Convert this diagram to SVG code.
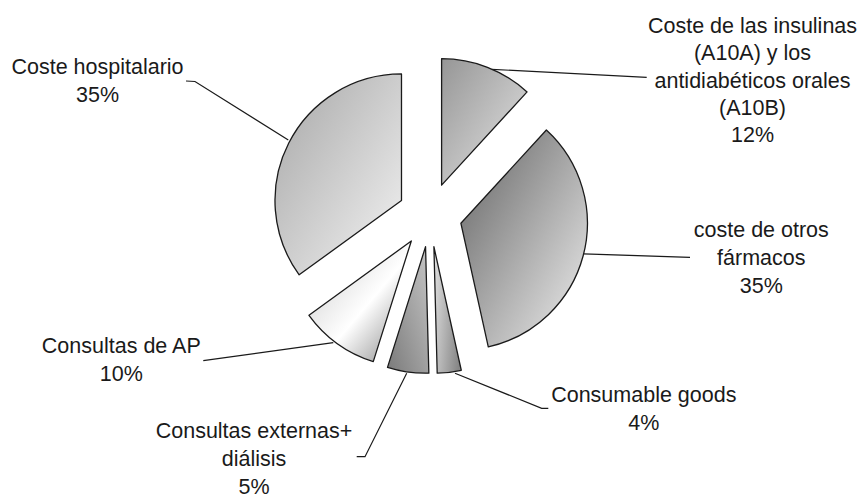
<svg xmlns="http://www.w3.org/2000/svg" width="862" height="497" viewBox="0 0 862 497">
<style>
.slice{stroke:#1a1a1a;stroke-width:1.3;stroke-linejoin:round}
.lead{fill:none;stroke:#1a1a1a;stroke-width:1.2}
text{font-family:"Liberation Sans",Arial,sans-serif;font-size:21.5px;fill:#1a1a1a;text-anchor:middle}
</style>
<defs>
<linearGradient id="g1" x1="0" y1="0" x2="1" y2="1"><stop offset="0" stop-color="#969696"/><stop offset="1" stop-color="#e6e6e6"/></linearGradient>
<linearGradient id="g2" x1="0" y1="0" x2="1" y2="1"><stop offset="0" stop-color="#626262"/><stop offset="1" stop-color="#f0f0f0"/></linearGradient>
<linearGradient id="g3" x1="0" y1="0.3" x2="1" y2="0.7"><stop offset="0" stop-color="#dadada"/><stop offset="1" stop-color="#868686"/></linearGradient>
<linearGradient id="g4" x1="0" y1="1" x2="1" y2="0"><stop offset="0" stop-color="#7a7a7a"/><stop offset="1" stop-color="#c6c6c6"/></linearGradient>
<linearGradient id="g5" x1="0" y1="0" x2="1" y2="1"><stop offset="0" stop-color="#c8c8c8"/><stop offset="0.55" stop-color="#ffffff"/><stop offset="1" stop-color="#808080"/></linearGradient>
<linearGradient id="g6" x1="0" y1="0" x2="1" y2="1"><stop offset="0" stop-color="#a6a6a6"/><stop offset="1" stop-color="#f4f4f4"/></linearGradient>
</defs>
<g id="connectors">
<polyline class="lead" points="491.7,69.3 646.7,77.3"/>
<polyline class="lead" points="583.3,253.8 690,257.3"/>
<polyline class="lead" points="455,373.3 541.7,408.3 548.3,408.3"/>
<polyline class="lead" points="406.7,373.3 365,456.7 356.7,456.7"/>
<polyline class="lead" points="333.3,342.7 203.3,360.7"/>
<polyline class="lead" points="288.3,140 195,81.5 186,81"/>
</g>
<g id="insulinas">
<path class="slice" fill="url(#g1)" d="M441.6,185.18 L441.6,58.68 A126.5,126.5 0 0 1 527.06,91.91 Z"/>
<text x="752.5" y="33">Coste de las insulinas</text>
<text x="752.5" y="60.3">(A10A) y los</text>
<text x="752.5" y="87.6">antidiabéticos orales</text>
<text x="752.5" y="114.9">(A10B)</text>
<text x="752.5" y="142.2">12%</text>
</g>
<g id="otros-farmacos">
<path class="slice" fill="url(#g2)" d="M460.91,223.28 L546.37,130.01 A126.5,126.5 0 0 1 488.29,346.78 Z"/>
<text x="761.3" y="236.7">coste de otros</text>
<text x="761.3" y="265">fármacos</text>
<text x="761.3" y="293.3">35%</text>
</g>
<g id="consumable">
<path class="slice" fill="url(#g3)" d="M433.9,246.76 L461.28,370.26 A126.5,126.5 0 0 1 437.21,373.22 Z"/>
<text x="643.8" y="402.3">Consumable goods</text>
<text x="643.8" y="430">4%</text>
</g>
<g id="externas">
<path class="slice" fill="url(#g4)" d="M425.55,246.69 L428.86,373.15 A126.5,126.5 0 0 1 387.51,367.33 Z"/>
<text x="254" y="438.3">Consultas externas+</text>
<text x="254" y="466">diálisis</text>
<text x="254" y="493.5">5%</text>
</g>
<g id="ap">
<path class="slice" fill="url(#g5)" d="M411.31,240.97 L373.27,361.61 A126.5,126.5 0 0 1 308.97,315.33 Z"/>
<text x="121.3" y="353.3">Consultas de AP</text>
<text x="121.3" y="381">10%</text>
</g>
<g id="hospitalario">
<path class="slice" fill="url(#g6)" d="M401.49,200.47 L299.15,274.83 A126.5,126.5 0 0 1 401.49,73.97 Z"/>
<text x="97.5" y="74">Coste hospitalario</text>
<text x="97.5" y="102">35%</text>
</g>
</svg>
